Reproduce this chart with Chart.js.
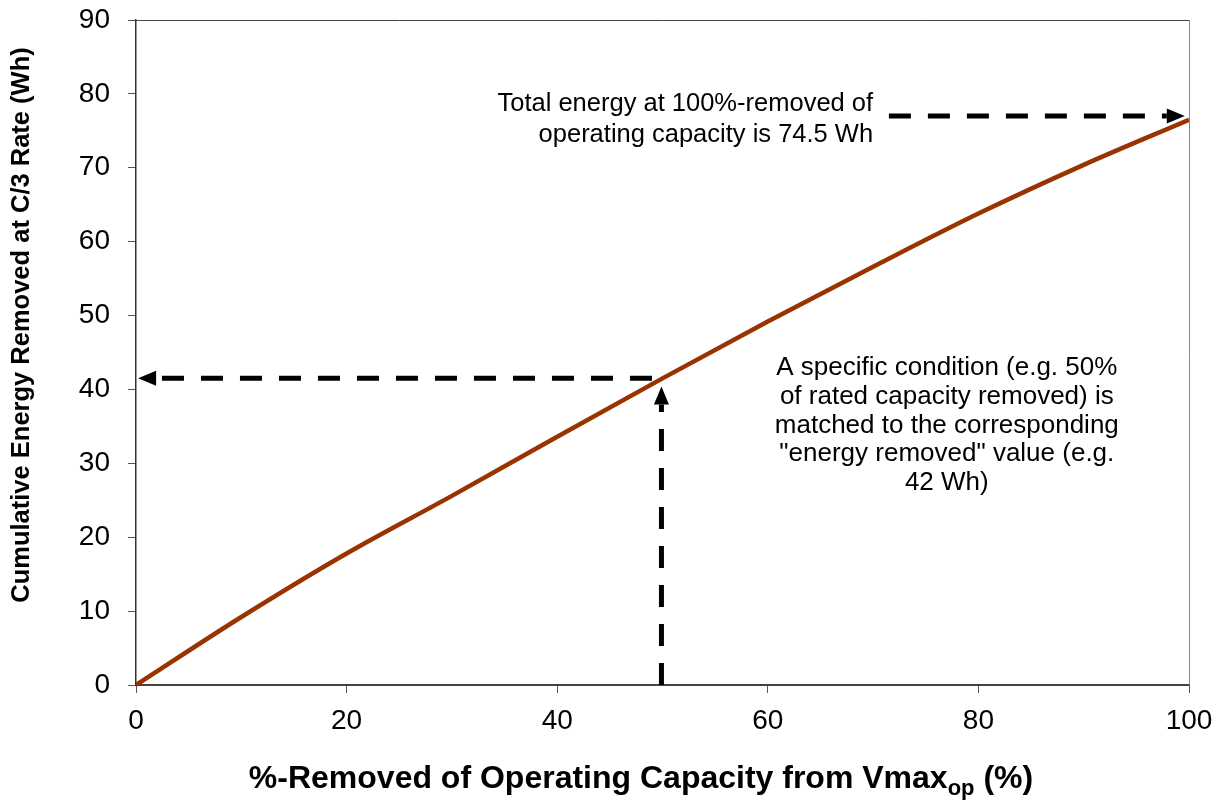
<!DOCTYPE html>
<html>
<head>
<meta charset="utf-8">
<script src="https://cdn.jsdelivr.net/npm/chart.js@4"></script>
<style>
  html, body { margin: 0; padding: 0; background: #fff; }
  #wrap { width: 1224px; height: 806px; position: relative; }
</style>
</head>
<body>
<div id="wrap"><canvas id="energyChart"></canvas></div>
<script>
// values
const pctRemoved = [0, 10, 20, 30, 40, 50, 60, 70, 80, 90, 100];
const energyWh = [0, 9.2, 17.8, 25.6, 33.6, 41.5, 49.2, 56.6, 63.8, 70.4, 76.5];

const xTitle = '%-Removed of Operating Capacity from Vmax';
const xTitleSub = 'op';
const xTitleEnd = ' (%)';
const yTitle = 'Cumulative Energy Removed at C/3 Rate (Wh)';

// dashed arrows: [x0, y0] -> [x1, y1] in data units, head at the second point
const arrowFrom = [[71.5, 77.0], [49.0, 41.5], [49.9, 0]];
const arrowTo = [[99.6, 77.0], [0.2, 41.5], [49.9, 40.4]];

const noteTop = ['Total energy at 100%-removed of', 'operating capacity is 74.5 Wh'];
const noteMid = ['A specific condition (e.g. 50%', 'of rated capacity removed) is',
    'matched to the corresponding', '"energy removed" value (e.g.', '42 Wh)'];

const FONT = '"Liberation Sans", Arial, sans-serif';

const annotations = {
    id: 'annotations',
    afterDatasetsDraw(chart) {
        const ctx = chart.ctx;
        const xs = chart.scales.x, ys = chart.scales.y;
        const area = chart.chartArea;

        // frame top and right
        ctx.save();
        ctx.lineWidth = 1;
        ctx.strokeStyle = '#444';
        ctx.beginPath();
        ctx.moveTo(area.left, area.top + 0.5);
        ctx.lineTo(area.right, area.top + 0.5);
        ctx.stroke();
        ctx.strokeStyle = '#888';
        ctx.beginPath();
        ctx.moveTo(area.right + 0.5, area.top);
        ctx.lineTo(area.right + 0.5, area.bottom);
        ctx.stroke();

        // arrows
        ctx.strokeStyle = '#000';
        ctx.fillStyle = '#000';
        ctx.lineWidth = 5;
        ctx.setLineDash([22, 17]);
        arrowFrom.forEach((from, i) => {
            const x0 = xs.getPixelForValue(from[0]), y0 = ys.getPixelForValue(from[1]);
            const x1 = xs.getPixelForValue(arrowTo[i][0]), y1 = ys.getPixelForValue(arrowTo[i][1]);
            const ang = Math.atan2(y1 - y0, x1 - x0);
            const headLen = 18, headHalf = 7.5;
            const bx = x1 - headLen * Math.cos(ang), by = y1 - headLen * Math.sin(ang);
            ctx.beginPath();
            ctx.moveTo(x0, y0);
            ctx.lineTo(bx, by);
            ctx.stroke();
            ctx.beginPath();
            ctx.moveTo(x1, y1);
            ctx.lineTo(bx + headHalf * Math.sin(ang), by - headHalf * Math.cos(ang));
            ctx.lineTo(bx - headHalf * Math.sin(ang), by + headHalf * Math.cos(ang));
            ctx.closePath();
            ctx.fill();
        });
        ctx.setLineDash([]);

        // notes
        ctx.font = '25.5px ' + FONT;
        ctx.textBaseline = 'middle';
        ctx.textAlign = 'right';
        noteTop.forEach((line, i) => {
            ctx.fillText(line, xs.getPixelForValue(70.0), ys.getPixelForValue(78.6) + i * 31);
        });
        ctx.font = '26px ' + FONT;
        ctx.textAlign = 'center';
        noteMid.forEach((line, i) => {
            ctx.fillText(line, xs.getPixelForValue(77.0), ys.getPixelForValue(42.9) + i * 28.7);
        });

        // axis titles
        const mainFont = 'bold 32px ' + FONT;
        const subFont = 'bold 22px ' + FONT;
        ctx.font = mainFont;
        ctx.textBaseline = 'alphabetic';
        ctx.textAlign = 'left';
        const w1 = ctx.measureText(xTitle).width;
        const w3 = ctx.measureText(xTitleEnd).width;
        ctx.font = subFont;
        const w2 = ctx.measureText(xTitleSub).width;
        const total = w1 + w2 + w3;
        const tx = (248 + 1034) / 2 - total / 2;
        const base = 788;
        ctx.font = mainFont;
        ctx.fillText(xTitle, tx, base);
        ctx.font = subFont;
        ctx.fillText(xTitleSub, tx + w1, base + 7);
        ctx.font = mainFont;
        ctx.fillText(xTitleEnd, tx + w1 + w2, base);

        ctx.translate(22, 325);
        ctx.rotate(-Math.PI / 2);
        ctx.textAlign = 'center';
        ctx.textBaseline = 'middle';
        ctx.font = 'bold 25.5px ' + FONT;
        ctx.fillText(yTitle, 0, 0);
        ctx.restore();
    }
};

const ctx = document.getElementById('energyChart').getContext('2d');
new Chart(ctx, {
    type: 'line',
    data: {
        labels: pctRemoved,
        datasets: [{
            data: pctRemoved.map((x, i) => ({ x: x, y: energyWh[i] })),
            borderColor: '#993300',
            borderWidth: 4.5,
            pointRadius: 0,
            fill: false,
            cubicInterpolationMode: 'monotone'
        }]
    },
    options: {
        responsive: true,
        maintainAspectRatio: false,
        animation: false,
        layout: { padding: { top: 20, right: 35, left: 0, bottom: 0 } },
        plugins: { legend: { display: false }, tooltip: { enabled: false } },
        scales: {
            x: {
                type: 'linear',
                min: 0, max: 100,
                afterFit: s => { s.height = 121; s.paddingRight = 0; s.paddingLeft = 0; },
                border: { color: '#444', width: 2 },
                grid: { drawOnChartArea: false, tickLength: 8, color: '#555' },
                ticks: { stepSize: 20, padding: 11, color: '#000', font: { family: FONT, size: 28 }, maxRotation: 0 }
            },
            y: {
                min: 0, max: 90,
                afterFit: s => { s.width = 136; s.paddingTop = 0; s.paddingBottom = 0; },
                border: { color: '#333', width: 1.5 },
                grid: { drawOnChartArea: false, tickLength: 8, color: '#555' },
                ticks: { stepSize: 10, padding: 18, color: '#000', font: { family: FONT, size: 28 } }
            }
        }
    },
    plugins: [annotations]
});
</script>
</body>
</html>
